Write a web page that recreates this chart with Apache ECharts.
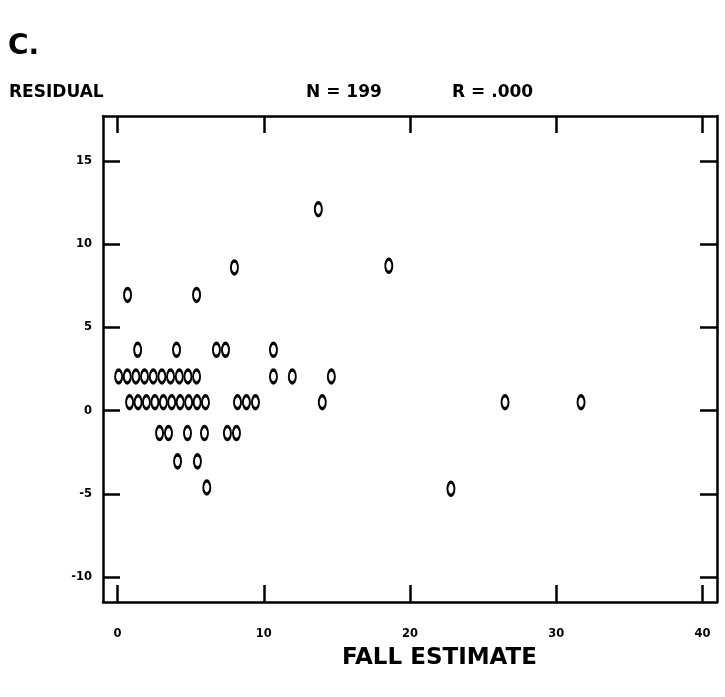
<!DOCTYPE html>
<html><head><meta charset="utf-8">
<script src="https://cdn.jsdelivr.net/npm/echarts@6/dist/echarts.min.js"></script>
<style>html,body{margin:0;padding:0;background:#fff}#c{width:725px;height:697px}</style>
</head><body><div id="c"></div>
<script>
// Data (x = fall estimate, y = residual)
const fallEstimate = [
  0.68, 5.40, 7.99, 13.73, 18.55,
  1.37, 4.03, 6.76, 7.38, 10.66,
  0.07, 0.66, 1.25, 1.84, 2.44, 3.03, 3.62, 4.22, 4.81, 5.40, 10.66, 11.95, 14.62,
  0.82, 1.40, 1.97, 2.55, 3.13, 3.70, 4.28, 4.86, 5.44, 6.01, 8.20, 8.81, 9.43, 14.0, 26.5, 31.7,
  2.87, 3.48, 4.78, 5.94, 7.51, 8.13,
  4.10, 5.46,
  6.10, 22.8
];
const residual = [
  6.95, 6.95, 8.6, 12.1, 8.7,
  3.65, 3.65, 3.65, 3.65, 3.65,
  2.05, 2.05, 2.05, 2.05, 2.05, 2.05, 2.05, 2.05, 2.05, 2.05, 2.05, 2.05, 2.05,
  0.5, 0.5, 0.5, 0.5, 0.5, 0.5, 0.5, 0.5, 0.5, 0.5, 0.5, 0.5, 0.5, 0.5, 0.5, 0.5,
  -1.35, -1.35, -1.35, -1.35, -1.35, -1.35,
  -3.05, -3.05,
  -4.62, -4.7
];
const xTickValues = [0, 10, 20, 30, 40];
const yTickValues = [-10, -5, 0, 5, 10, 15];
const panelLabel = 'C.';
const yTitle = 'RESIDUAL';
const statN = 'N = 199';
const statR = 'R = .000';
const xTitle = 'FALL ESTIMATE';

const FONT = '"DejaVu Sans", sans-serif';
const INK = '#000';
const points = fallEstimate.map((x, i) => [x, residual[i]]);

const lineStyle = { color: INK, width: 2.5 };
function xAx(pos, showLabel) {
  return {
    type: 'value', position: pos, min: -1, max: 41,
    axisLine: { show: true, onZero: false, lineStyle },
    axisTick: { show: true, inside: true, length: 17, customValues: xTickValues, lineStyle },
    axisLabel: { show: showLabel, customValues: xTickValues, margin: 26, fontFamily: FONT, fontWeight: 'bold', fontSize: 11.5, color: INK },
    splitLine: { show: false }
  };
}
function yAx(pos, showLabel) {
  return {
    type: 'value', position: pos, min: -11.5, max: 17.7,
    axisLine: { show: true, onZero: false, lineStyle },
    axisTick: { show: true, inside: true, length: 17, customValues: yTickValues, lineStyle },
    axisLabel: { show: showLabel, customValues: yTickValues, margin: 11, fontFamily: FONT, fontWeight: 'bold', fontSize: 11.5, color: INK },
    splitLine: { show: false }
  };
}

const chart = echarts.init(document.getElementById('c'), null, { renderer: 'canvas' });
chart.setOption({
  animation: false,
  backgroundColor: '#fff',
  grid: { left: 103, right: 8, top: 116, bottom: 95, containLabel: false },
  xAxis: [xAx('bottom', true), xAx('top', false)],
  yAxis: [yAx('left', true), yAx('right', false)],
  graphic: [
    { type: 'text', left: 8, top: 33, style: { text: panelLabel, font: 'bold 28px ' + FONT, fill: INK } },
    { type: 'text', left: 9, top: 84, style: { text: yTitle, font: 'bold 17px ' + FONT, fill: INK } },
    { type: 'text', left: 306, top: 84, style: { text: statN, font: 'bold 17px ' + FONT, fill: INK } },
    { type: 'text', left: 452, top: 84, style: { text: statR, font: 'bold 17px ' + FONT, fill: INK } },
    { type: 'text', left: 342, top: 647, style: { text: xTitle, font: 'bold 23px ' + FONT, fill: INK } }
  ],
  series: [{
    type: 'scatter',
    xAxisIndex: 0, yAxisIndex: 0,
    symbol: 'circle',
    symbolSize: [7, 13],
    itemStyle: { color: '#fff', borderColor: INK, borderWidth: 2.6, opacity: 1 },
    data: points
  }]
});
</script>
</body></html>
